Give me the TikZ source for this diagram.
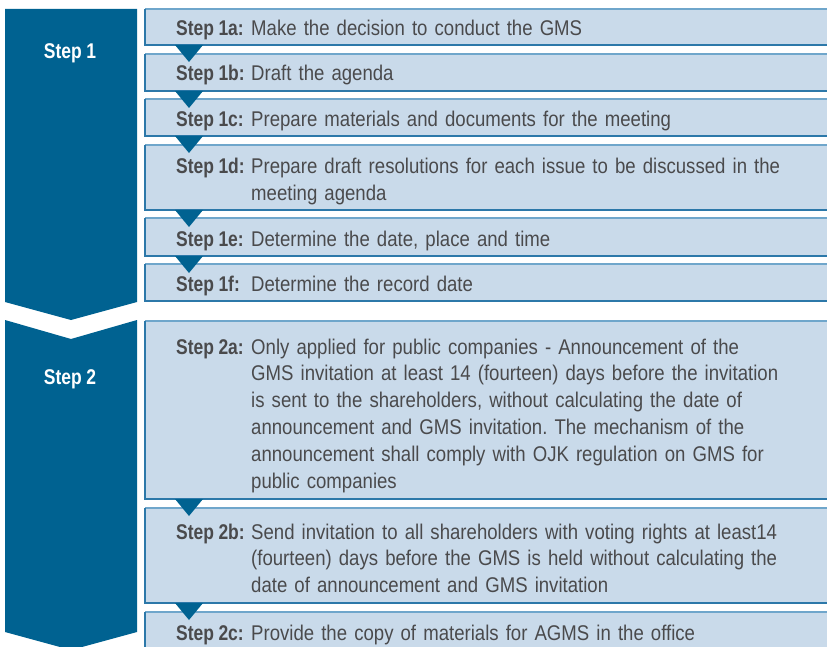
\documentclass[tikz,border=0pt]{standalone}
\usepackage{fontspec}
\setmainfont{Liberation Sans}[UprightFeatures={FakeStretch=0.873}, BoldFeatures={FakeStretch=0.82}, WordSpace=0.92]
\frenchspacing
\usetikzlibrary{calc}
\definecolor{chev}{HTML}{006291}
\definecolor{boxfill}{HTML}{C9DAEA}
\definecolor{boxtop}{HTML}{6FA6CB}
\definecolor{boxbot}{HTML}{2C78A9}
\definecolor{txt}{HTML}{4A4A4C}
\tikzset{
  stepbox/.style={fill=boxfill, draw=none, anchor=north west, minimum width=700pt, inner sep=0pt, outer sep=0pt},
  steplabel/.style={anchor=base west, inner sep=0pt, font=\fontsize{21.3}{27}\selectfont\bfseries, text=txt},
  stepdesc/.style={anchor=base west, inner sep=0pt, font=\fontsize{21.3}{26.8}\selectfont, text=txt, text width=575pt, align=left},
  chevtext/.style={font=\fontsize{21.3}{27}\selectfont\bfseries, text=white},
}
\newcommand{\mkbox}[3]{% name, top, height
  \node[stepbox, minimum height=#3pt] (#1) at (145,#2) {};
  \draw[boxtop, line width=1.3pt] (#1.north east) -- (#1.north west);
  \draw[boxbot, line width=1.3pt] (#1.north west) -- (#1.south west) -- (#1.south east);
}
\newcommand{\mktri}[1]{% box name above
  \fill[chev] ($(#1.south west)+(30,0)$) -- ($(#1.south west)+(58,0)$) -- ($(#1.south west)+(44,17)$) -- cycle;
}
\begin{document}
\begin{tikzpicture}[x=1pt,y=-1pt]
\useasboundingbox (0,0) rectangle (827,647);
% chevrons
\fill[chev] (5,9) -- (137,9) -- (137,302) -- (71,320) -- (5,302) -- cycle;
\fill[chev] (5,320) -- (71,339) -- (137,320) -- (137,632) -- (71,650) -- (5,632) -- cycle;
\node[chevtext] (s1) at (70,53) {Step 1};
\node[chevtext] (s2) at (70,379) {Step 2};
% boxes
\mkbox{b1a}{9}{36}
\mkbox{b1b}{54}{37}
\mkbox{b1c}{99}{37}
\mkbox{b1d}{145}{65}
\mkbox{b1e}{218}{38}
\mkbox{b1f}{264}{37}
\mkbox{b2a}{321}{178}
\mkbox{b2b}{508}{95}
\mkbox{b2c}{612}{40}
% triangles
\mktri{b1a}
\mktri{b1b}
\mktri{b1c}
\mktri{b1d}
\mktri{b1e}
\mktri{b2a}
\mktri{b2b}
% texts
\node[steplabel] (l1a) at (176,36) {Step 1a:};
\node[stepdesc] (d1a) at (251,36) {Make the decision to conduct the GMS};
\node[steplabel] (l1b) at (176,81) {Step 1b:};
\node[stepdesc] (d1b) at (251,81) {Draft the agenda};
\node[steplabel] (l1c) at (176,127) {Step 1c:};
\node[stepdesc] (d1c) at (251,127) {Prepare materials and documents for the meeting};
\node[steplabel] (l1d) at (176,174) {Step 1d:};
\node[stepdesc] (d1d) at (251,174) {Prepare draft resolutions for each issue to be discussed in the\\ meeting agenda};
\node[steplabel] (l1e) at (176,246) {Step 1e:};
\node[stepdesc] (d1e) at (251,246) {Determine the date, place and time};
\node[steplabel] (l1f) at (176,291) {Step 1f:};
\node[stepdesc] (d1f) at (251,291) {Determine the record date};
\node[steplabel] (l2a) at (176,354) {Step 2a:};
\node[stepdesc] (d2a) at (251,354) {Only applied for public companies - Announcement of the\\ GMS invitation at least 14 (fourteen) days before the invitation\\ is sent to the shareholders, without calculating the date of\\ announcement and GMS invitation. The mechanism of the\\ announcement shall comply with OJK regulation on GMS for\\ public companies};
\node[steplabel] (l2b) at (176,539) {Step 2b:};
\node[stepdesc] (d2b) at (251,539) {Send invitation to all shareholders with voting rights at least14\\ (fourteen) days before the GMS is held without calculating the\\ date of announcement and GMS invitation};
\node[steplabel] (l2c) at (176,640) {Step 2c:};
\node[stepdesc] (d2c) at (251,640) {Provide the copy of materials for AGMS in the office};
\end{tikzpicture}
\end{document}
